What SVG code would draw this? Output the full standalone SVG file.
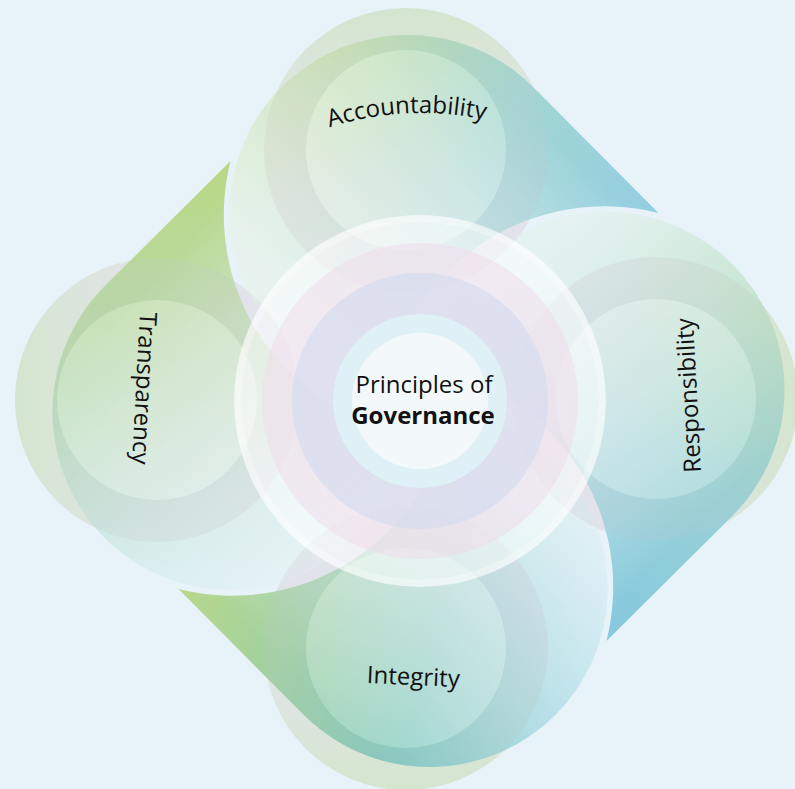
<svg xmlns="http://www.w3.org/2000/svg" width="795" height="789" viewBox="0 0 795 789">
<style>
.lbl{font-family:"Open Sans","Noto Sans","Liberation Sans",sans-serif;font-size:24px;fill:#111}
.bold{font-weight:700}
.inner{fill:#ffffff;fill-opacity:0.25}
.ring{fill:url(#ringG)}
.band{fill:#c9c3d6;fill-opacity:0.14;fill-rule:evenodd}
</style>
<defs>
<linearGradient id="hueTop" gradientUnits="userSpaceOnUse" x1="330" y1="40" x2="658" y2="214">
<stop offset="0" stop-color="#bedc9e"/><stop offset="0.5" stop-color="#a3d7d0"/><stop offset="1" stop-color="#93cee3"/>
</linearGradient>
<linearGradient id="fTop" gradientUnits="userSpaceOnUse" x1="520" y1="110" x2="330" y2="320">
<stop offset="0" stop-color="#fff"/><stop offset="1" stop-color="#383838"/>
</linearGradient>
<linearGradient id="wTop" gradientUnits="userSpaceOnUse" x1="520" y1="110" x2="330" y2="320">
<stop offset="0" stop-color="#fff" stop-opacity="0"/><stop offset="1" stop-color="#fff" stop-opacity="0.3"/>
</linearGradient>
<linearGradient id="hueRight" gradientUnits="userSpaceOnUse" x1="790" y1="330" x2="606" y2="641">
<stop offset="0" stop-color="#acdab9"/><stop offset="0.45" stop-color="#98d2d2"/><stop offset="1" stop-color="#86c8e1"/>
</linearGradient>
<linearGradient id="fRight" gradientUnits="userSpaceOnUse" x1="710" y1="510" x2="500" y2="300">
<stop offset="0" stop-color="#fff"/><stop offset="1" stop-color="#383838"/>
</linearGradient>
<linearGradient id="wRight" gradientUnits="userSpaceOnUse" x1="710" y1="510" x2="500" y2="300">
<stop offset="0" stop-color="#fff" stop-opacity="0"/><stop offset="1" stop-color="#fff" stop-opacity="0.3"/>
</linearGradient>
<linearGradient id="hueBottom" gradientUnits="userSpaceOnUse" x1="178" y1="589" x2="600" y2="700">
<stop offset="0" stop-color="#bad88a"/><stop offset="0.6" stop-color="#7cc7bd"/><stop offset="1" stop-color="#8ccee0"/>
</linearGradient>
<linearGradient id="fBottom" gradientUnits="userSpaceOnUse" x1="330" y1="710" x2="550" y2="490">
<stop offset="0" stop-color="#fff"/><stop offset="1" stop-color="#383838"/>
</linearGradient>
<linearGradient id="wBottom" gradientUnits="userSpaceOnUse" x1="330" y1="710" x2="550" y2="490">
<stop offset="0" stop-color="#fff" stop-opacity="0"/><stop offset="1" stop-color="#fff" stop-opacity="0.3"/>
</linearGradient>
<linearGradient id="hueLeft" gradientUnits="userSpaceOnUse" x1="228" y1="160" x2="250" y2="590">
<stop offset="0" stop-color="#b9d884"/><stop offset="0.5" stop-color="#b8d9b0"/><stop offset="1" stop-color="#bde2e6"/>
</linearGradient>
<linearGradient id="fLeft" gradientUnits="userSpaceOnUse" x1="120" y1="310" x2="360" y2="530">
<stop offset="0" stop-color="#fff"/><stop offset="1" stop-color="#383838"/>
</linearGradient>
<linearGradient id="wLeft" gradientUnits="userSpaceOnUse" x1="120" y1="310" x2="360" y2="530">
<stop offset="0" stop-color="#fff" stop-opacity="0"/><stop offset="1" stop-color="#fff" stop-opacity="0.3"/>
</linearGradient>
<mask id="mTop" maskUnits="userSpaceOnUse" x="0" y="0" width="795" height="789"><rect width="795" height="789" fill="url(#fTop)"/></mask>
<mask id="mRight" maskUnits="userSpaceOnUse" x="0" y="0" width="795" height="789"><rect width="795" height="789" fill="url(#fRight)"/></mask>
<mask id="mBottom" maskUnits="userSpaceOnUse" x="0" y="0" width="795" height="789"><rect width="795" height="789" fill="url(#fBottom)"/></mask>
<mask id="mLeft" maskUnits="userSpaceOnUse" x="0" y="0" width="795" height="789"><rect width="795" height="789" fill="url(#fLeft)"/></mask>
<linearGradient id="ringG" x1="0.5" y1="0" x2="0.5" y2="1">
<stop offset="0" stop-color="#d6eacb" stop-opacity="0.95"/>
<stop offset="0.3" stop-color="#e0e8dc" stop-opacity="0.8"/>
<stop offset="0.6" stop-color="#e5e1e8" stop-opacity="0.7"/>
<stop offset="1" stop-color="#e6e1ea" stop-opacity="0.5"/>
</linearGradient>
<path id="arcTop" d="M 120.5 414 A 301 301 0 0 1 722.5 414"/>
<path id="pTop" d="M 658.5 213 L 533.7 87.5 A 178 178 0 1 0 386.8 389.8 A 221 221 0 0 1 658.5 213 Z"/>
<path id="pRight" d="M 606.5 641 L 732 516.2 A 178 178 0 1 0 429.7 369.3 A 221 221 0 0 1 606.5 641 Z"/>
<path id="pBottom" d="M 178.5 589 L 303.3 714.5 A 178 178 0 1 0 450.2 412.2 A 221 221 0 0 1 178.5 589 Z"/>
<path id="pLeft" d="M 230.5 161 L 105 285.8 A 178 178 0 1 0 407.3 432.7 A 221 221 0 0 1 230.5 161 Z"/>
</defs>
<rect width="795" height="789" fill="#e8f3f9"/>

<g id="connectors"/>

<g id="halo-rings">
<circle class="ring" cx="406" cy="150" r="142"/>
<circle class="ring" cx="656" cy="399" r="142" transform="rotate(90 656 399)"/>
<circle class="ring" cx="406" cy="648" r="142" transform="rotate(180 406 648)"/>
<circle class="ring" cx="157" cy="400" r="142" transform="rotate(-90 157 400)"/>
</g>

<g id="petal-accountability">
<use href="#pTop" fill="url(#hueTop)" mask="url(#mTop)"/>
<use href="#pTop" fill="url(#wTop)"/>
</g>
<g id="petal-responsibility">
<use href="#pRight" fill="url(#hueRight)" mask="url(#mRight)"/>
<use href="#pRight" fill="url(#wRight)"/>
</g>
<g id="petal-integrity">
<use href="#pBottom" fill="url(#hueBottom)" mask="url(#mBottom)"/>
<use href="#pBottom" fill="url(#wBottom)"/>
</g>
<g id="petal-transparency">
<use href="#pLeft" fill="url(#hueLeft)" mask="url(#mLeft)"/>
<use href="#pLeft" fill="url(#wLeft)"/>
</g>

<g id="ring-accountability">
<path class="band" d="M 264 150 a 142 142 0 1 0 284 0 a 142 142 0 1 0 -284 0 Z M 306 150 a 100 100 0 1 1 200 0 a 100 100 0 1 1 -200 0 Z"/>
<circle class="inner" cx="406" cy="150" r="100"/>
</g>
<g id="ring-responsibility">
<path class="band" d="M 514 399 a 142 142 0 1 0 284 0 a 142 142 0 1 0 -284 0 Z M 556 399 a 100 100 0 1 1 200 0 a 100 100 0 1 1 -200 0 Z"/>
<circle class="inner" cx="656" cy="399" r="100"/>
</g>
<g id="ring-integrity">
<path class="band" d="M 264 648 a 142 142 0 1 0 284 0 a 142 142 0 1 0 -284 0 Z M 306 648 a 100 100 0 1 1 200 0 a 100 100 0 1 1 -200 0 Z"/>
<circle class="inner" cx="406" cy="648" r="100"/>
</g>
<g id="ring-transparency">
<path class="band" d="M 15 400 a 142 142 0 1 0 284 0 a 142 142 0 1 0 -284 0 Z M 57 400 a 100 100 0 1 1 200 0 a 100 100 0 1 1 -200 0 Z"/>
<circle class="inner" cx="157" cy="400" r="100"/>
</g>

<g id="center">
<circle cx="420" cy="401" r="186" fill="#ffffff" fill-opacity="0.5"/>
<circle cx="420" cy="401" r="182" fill="none" stroke="#ffffff" stroke-opacity="0.3" stroke-width="7"/>
<circle cx="420" cy="401" r="158" fill="#f0d8e8" fill-opacity="0.45"/>
<circle cx="420" cy="401" r="128" fill="#d2daee" fill-opacity="0.6"/>
<circle cx="420" cy="401" r="87" fill="#dff0f6"/>
<circle cx="420" cy="401" r="68" fill="#f3f9fb"/>
<text class="lbl" x="424" y="393" text-anchor="middle">Principles of</text>
<text class="lbl bold" x="423" y="424" text-anchor="middle">Governance</text>
</g>

<g id="labels">
<text class="lbl"><textPath href="#arcTop" startOffset="458" text-anchor="middle">Accountability</textPath></text>
<text class="lbl" x="136" y="388" text-anchor="middle" transform="rotate(93 136 388)">Transparency</text>
<text class="lbl" x="697" y="395" text-anchor="middle" transform="rotate(-93 697 395)">Responsibility</text>
<text class="lbl" x="413" y="685" text-anchor="middle" transform="rotate(2.5 413 685)">Integrity</text>
</g>
</svg>
